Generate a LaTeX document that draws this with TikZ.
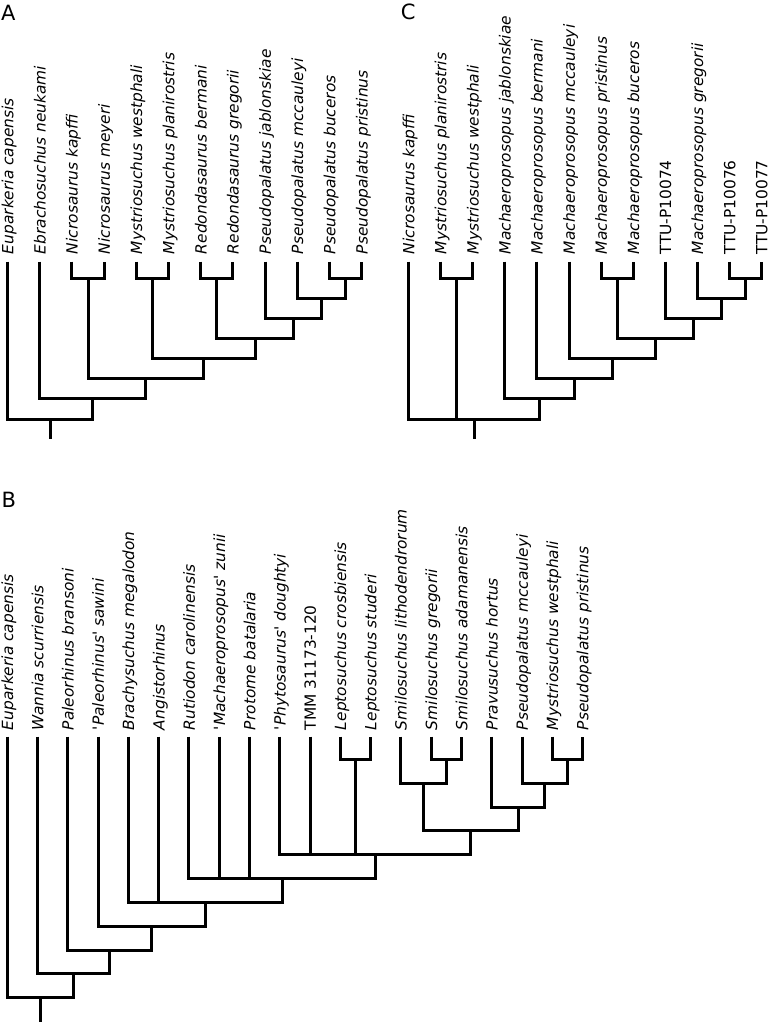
\documentclass[tikz,border=0pt]{standalone}
\usepackage{fontspec}
\newfontfamily\lab{DejaVu Sans}
\begin{document}
\begin{tikzpicture}[x=1pt,y=-1pt,
  tree/.style={line width=3pt, line join=miter},
  tip/.style={rotate=90, anchor=base west, inner sep=0pt, font={\lab\itshape\fontsize{15.4}{18}\selectfont}},
  panel/.style={inner sep=0pt, font={\lab\fontsize{21}{24}\selectfont}}]
\useasboundingbox (0,0) rectangle (770,1024);

% panel letters
\node[panel] (pA) at (8.3,12.5) {A};
\node[panel] (pC) at (408.3,11.7) {C};
\node[panel] (pB) at (8.8,499.7) {B};

% ---------------- Panel A ----------------
\foreach \i/\t in {0/Euparkeria capensis,1/Ebrachosuchus neukami,2/Nicrosaurus kapffi,3/Nicrosaurus meyeri,4/Mystriosuchus westphali,5/Mystriosuchus planirostris,6/Redondasaurus bermani,7/Redondasaurus gregorii,8/Pseudopalatus jablonskiae,9/Pseudopalatus mccauleyi,10/Pseudopalatus buceros,11/Pseudopalatus pristinus}{
  \coordinate (tA\i) at (7.5+32.2*\i, 261.7);
  \node[tip] (lA\i) at ([shift={(5.8,-7.5)}]tA\i) {\t};
}
\coordinate (nA1) at (88, 278.3);
\coordinate (nA2) at (152.4, 278.3);
\coordinate (nA3) at (216.8, 278.3);
\coordinate (nA4) at (345.6, 278.3);
\coordinate (nA5) at (321.45, 298.4);
\coordinate (nA6) at (293.3, 318.5);
\coordinate (nA7) at (255.05, 338.6);
\coordinate (nA8) at (203.7, 358.7);
\coordinate (nA9) at (145.85, 378.8);
\coordinate (nA10) at (92.8, 398.9);
\coordinate (nA11) at (50.15, 419.0);
\coordinate (rA) at (50.15, 439.3);
\draw[tree] (tA2) |- (nA1) -| (tA3);
\draw[tree] (tA4) |- (nA2) -| (tA5);
\draw[tree] (tA6) |- (nA3) -| (tA7);
\draw[tree] (tA10) |- (nA4) -| (tA11);
\draw[tree] (tA9) |- (nA5) -| (nA4);
\draw[tree] (tA8) |- (nA6) -| (nA5);
\draw[tree] (nA3) |- (nA7) -| (nA6);
\draw[tree] (nA2) |- (nA8) -| (nA7);
\draw[tree] (nA1) |- (nA9) -| (nA8);
\draw[tree] (tA1) |- (nA10) -| (nA9);
\draw[tree] (tA0) |- (nA11) -| (nA10);
\draw[tree] (nA11) -- (rA);

% ---------------- Panel C ----------------
\foreach \i/\t in {0/Nicrosaurus kapffi,1/Mystriosuchus planirostris,2/Mystriosuchus westphali,3/Machaeroprosopus jablonskiae,4/Machaeroprosopus bermani,5/Machaeroprosopus mccauleyi,6/Machaeroprosopus pristinus,7/Machaeroprosopus buceros,8/{\upshape TTU-P10074},9/Machaeroprosopus gregorii,10/{\upshape TTU-P10076},11/{\upshape TTU-P10077}}{
  \coordinate (tC\i) at (408.5+32.1*\i, 261.7);
  \node[tip] (lC\i) at ([shift={(5.8,-7.5)}]tC\i) {\t};
}
\coordinate (nC1) at (456.65, 278.3);
\coordinate (nC2) at (617.15, 278.3);
\coordinate (nC3) at (745.55, 278.3);
\coordinate (nC4) at (721.5, 298.4);
\coordinate (nC5) at (693.4, 318.5);
\coordinate (nC6) at (655.3, 338.6);
\coordinate (nC7) at (612.15, 358.7);
\coordinate (nC8) at (574.5, 378.8);
\coordinate (nC9) at (539.65, 398.9);
\coordinate (nC10) at (474.1, 419.0);
\coordinate (rC) at (474.1, 439.3);
\draw[tree] (tC1) |- (nC1) -| (tC2);
\draw[tree] (tC6) |- (nC2) -| (tC7);
\draw[tree] (tC10) |- (nC3) -| (tC11);
\draw[tree] (tC9) |- (nC4) -| (nC3);
\draw[tree] (tC8) |- (nC5) -| (nC4);
\draw[tree] (nC2) |- (nC6) -| (nC5);
\draw[tree] (tC5) |- (nC7) -| (nC6);
\draw[tree] (tC4) |- (nC8) -| (nC7);
\draw[tree] (tC3) |- (nC9) -| (nC8);
\draw[tree] (tC0) |- (nC10) -| (nC9);
\draw[tree] (nC1) -- (nC1 |- nC10);
\draw[tree] (nC10) -- (rC);

% ---------------- Panel B ----------------
\foreach \i/\t in {0/Euparkeria capensis,1/Wannia scurriensis,2/Paleorhinus bransoni,3/'Paleorhinus' sawini,4/Brachysuchus megalodon,5/Angistorhinus,6/Rutiodon carolinensis,7/'Machaeroprosopus' zunii,8/Protome batalaria,9/'Phytosaurus' doughtyi,10/{\upshape TMM 31173-120},11/Leptosuchus crosbiensis,12/Leptosuchus studeri,13/Smilosuchus lithodendrorum,14/Smilosuchus gregorii,15/Smilosuchus adamanensis,16/Pravusuchus hortus,17/Pseudopalatus mccauleyi,18/Mystriosuchus westphali,19/Pseudopalatus pristinus}{
  \coordinate (tB\i) at (7.3+30.28*\i, 736.7);
  \node[tip] (lB\i) at ([shift={(5.8,-6.5)}]tB\i) {\t};
}
\coordinate (nB1) at (355.52, 759.3);
\coordinate (nB2) at (446.36, 759.3);
\coordinate (nB3) at (567.48, 759.3);
\coordinate (nB4) at (544.77, 783.15);
\coordinate (nB5) at (518.27, 807.0);
\coordinate (nB6) at (423.65, 783.15);
\coordinate (nB7) at (470.96, 830.85);
\coordinate (nB8) at (375.39, 854.7);
\coordinate (nB9) at (282.19, 878.55);
\coordinate (nB10) at (205.3, 902.4);
\coordinate (nB11) at (151.72, 926.25);
\coordinate (nB12) at (109.79, 950.1);
\coordinate (nB13) at (73.69, 973.95);
\coordinate (nB14) at (40.5, 997.8);
\coordinate (rB) at (40.5, 1021.65);
\draw[tree] (tB11) |- (nB1) -| (tB12);
\draw[tree] (tB14) |- (nB2) -| (tB15);
\draw[tree] (tB18) |- (nB3) -| (tB19);
\draw[tree] (tB17) |- (nB4) -| (nB3);
\draw[tree] (tB16) |- (nB5) -| (nB4);
\draw[tree] (tB13) |- (nB6) -| (nB2);
\draw[tree] (nB6) |- (nB7) -| (nB5);
\draw[tree] (tB9) |- (nB8) -| (nB7);
\draw[tree] (tB10) -- (tB10 |- nB8);
\draw[tree] (nB1) -- (nB1 |- nB8);
\draw[tree] (tB6) |- (nB9) -| (nB8);
\draw[tree] (tB7) -- (tB7 |- nB9);
\draw[tree] (tB8) -- (tB8 |- nB9);
\draw[tree] (tB4) |- (nB10) -| (nB9);
\draw[tree] (tB5) -- (tB5 |- nB10);
\draw[tree] (tB3) |- (nB11) -| (nB10);
\draw[tree] (tB2) |- (nB12) -| (nB11);
\draw[tree] (tB1) |- (nB13) -| (nB12);
\draw[tree] (tB0) |- (nB14) -| (nB13);
\draw[tree] (nB14) -- (rB);
\end{tikzpicture}
\end{document}
